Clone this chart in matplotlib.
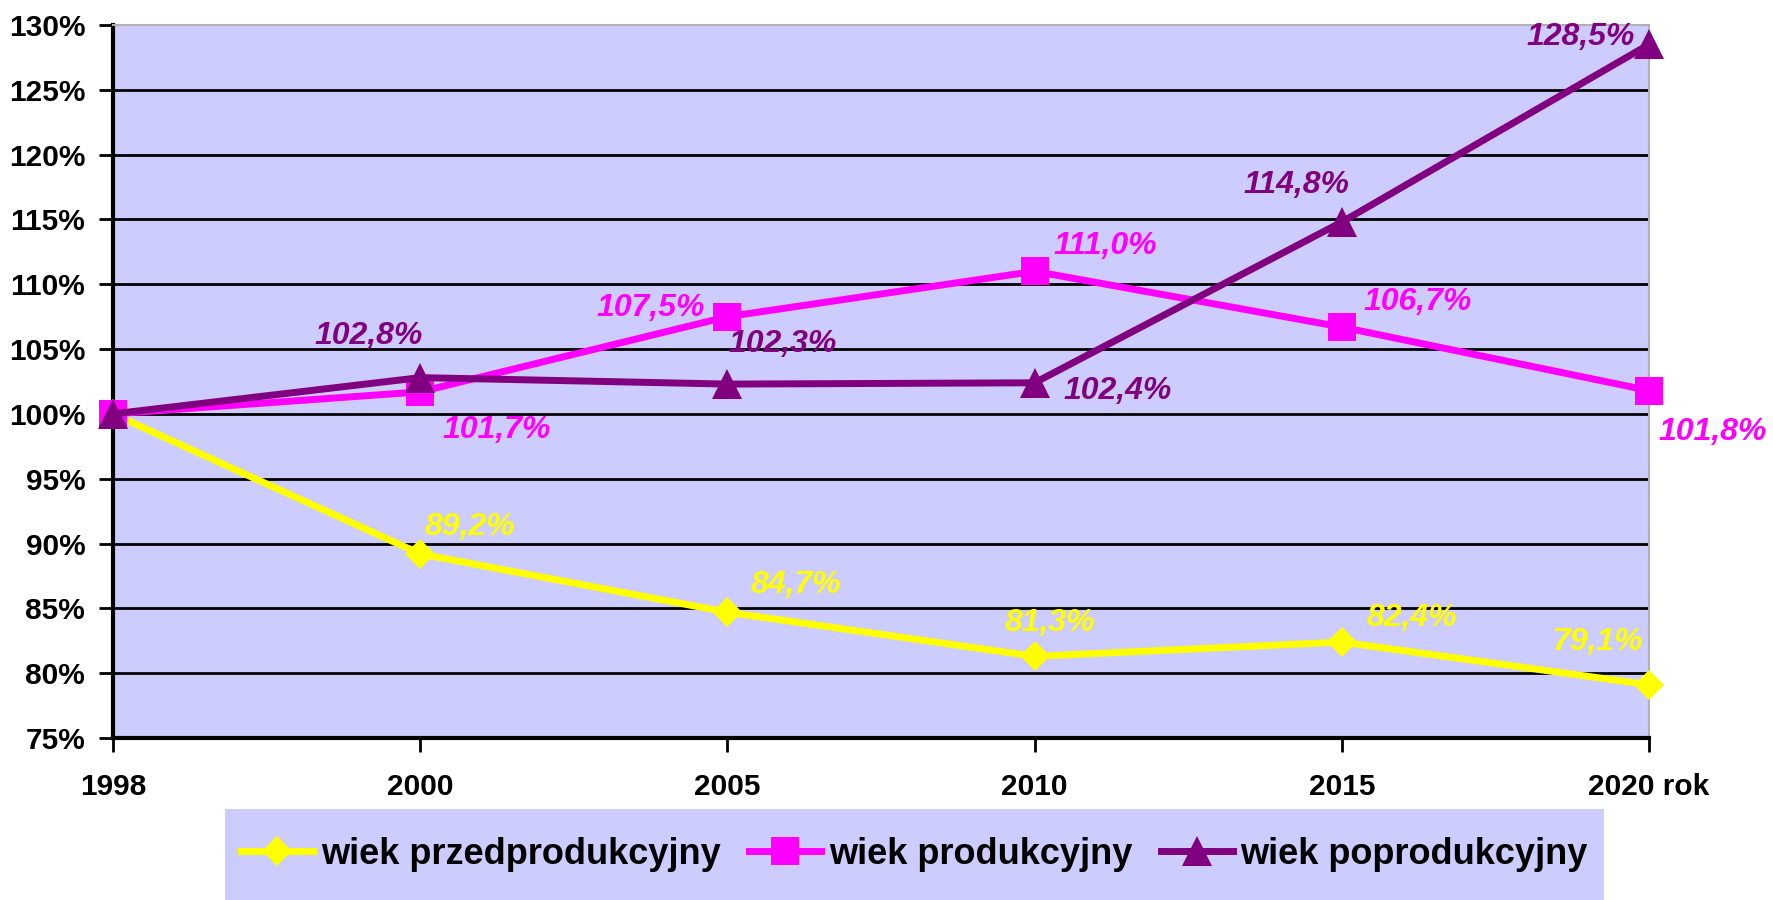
import matplotlib
matplotlib.use("Agg")
import matplotlib.pyplot as plt
from matplotlib.patches import Rectangle

plt.rcParams["font.family"] = ["Liberation Sans", "DejaVu Sans"]
plt.rcParams["font.weight"] = "bold"

# data
years = ["1998", "2000", "2005", "2010", "2015", "2020 rok"]
przed = [100.0, 89.2, 84.7, 81.3, 82.4, 79.1]
prod = [100.0, 101.7, 107.5, 111.0, 106.7, 101.8]
poprod = [100.0, 102.8, 102.3, 102.4, 114.8, 128.5]
series_names = ["wiek przedprodukcyjny", "wiek produkcyjny", "wiek poprodukcyjny"]
y_ticks = [75, 80, 85, 90, 95, 100, 105, 110, 115, 120, 125, 130]

# label offsets in pixels (no label on the first point)
off_przed = [None, (50, 27), (68, 27), (15, 33), (70, 24), (-51, 43)]
off_prod = [None, (76, -38), (-77, 9), (71, 25), (76, 25), (64, -41)]
off_poprod = [None, (-52, 42), (55, 40), (83, -8), (-45, 37), (-68, 7)]

BG = "#CCCCFF"
colors = ["#FFFF00", "#FF00FF", "#800080"]
markers = ["D", "s", "^"]
msizes = [15, 20, 21]

fig = plt.figure(figsize=(17.74, 9.0), dpi=100)
ax = fig.add_axes([113 / 1774, 1 - 738 / 900, (1649 - 113) / 1774, (738 - 25) / 900])
ax.set_facecolor(BG)

x = list(range(len(years)))
all_series = [przed, prod, poprod]
all_offsets = [off_przed, off_prod, off_poprod]
handles = []
for i, vals in enumerate(all_series):
    (h,) = ax.plot(x, vals, color=colors[i], lw=5, marker=markers[i],
                   markersize=msizes[i], markeredgewidth=0, clip_on=False,
                   zorder=3 + i, label=series_names[i])
    handles.append(h)
    for xi, v, off in zip(x, vals, all_offsets[i]):
        if off is None:
            continue
        ax.annotate(f"{v:.1f}%".replace(".", ","), (xi, v), xytext=off,
                    textcoords="offset pixels", ha="center", va="center",
                    fontsize=23, fontstyle="italic", fontweight="bold",
                    color=colors[i], zorder=10, annotation_clip=False)

ax.set_xlim(0, len(years) - 1)
ax.set_ylim(75, 130)
ax.set_xticks(x)
ax.set_xticklabels(years)
ax.set_yticks(y_ticks)
ax.set_yticklabels([f"{t}%" for t in y_ticks])
ax.tick_params(axis="both", direction="out", length=10, width=2, labelsize=21.5)
ax.tick_params(axis="x", pad=15)
ax.tick_params(axis="y", pad=10)

for t in y_ticks[1:-1]:
    ax.axhline(t, color="black", lw=2, zorder=1)

ax.spines["left"].set_linewidth(3)
ax.spines["bottom"].set_linewidth(3)
ax.spines["top"].set_color("#B0B0B0")
ax.spines["right"].set_color("#B0B0B0")
ax.spines["top"].set_linewidth(1.5)
ax.spines["right"].set_linewidth(1.5)

fig.patches.append(Rectangle((225 / 1774, 0), (1604 - 225) / 1774, (900 - 809) / 900,
                             transform=fig.transFigure, facecolor=BG,
                             edgecolor="none", zorder=0))
fig.legend(handles=handles, loc="center", bbox_to_anchor=((225 + 1604) / 2 / 1774, 1 - 854 / 900),
           ncol=3, frameon=False, fontsize=26, handlelength=2.0,
           handletextpad=0.2, columnspacing=0.8, borderaxespad=0)

fig.savefig("out.png", dpi=100)
